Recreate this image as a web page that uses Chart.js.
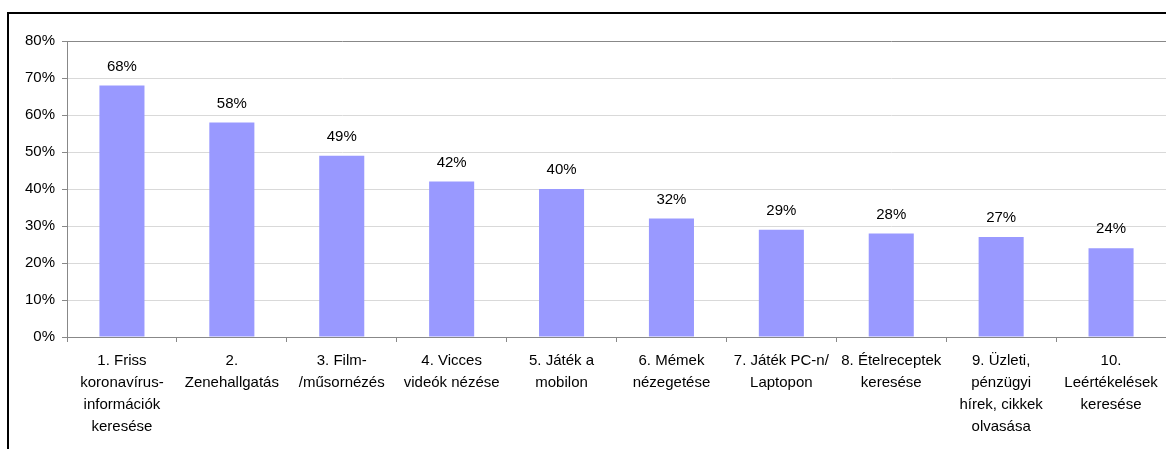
<!DOCTYPE html>
<html>
<head>
<meta charset="utf-8">
<script src="https://cdn.jsdelivr.net/npm/chart.js@4"></script>
<style>
  html, body { margin: 0; padding: 0; background: #fff; overflow: hidden; }
  #wrap { width: 1166px; height: 449px; position: relative; }
</style>
</head>
<body>
<div id="wrap"><canvas id="chart" width="1166" height="449"></canvas></div>
<script>
'use strict';

// ── data ──
const categories = [
  ['1. Friss', 'koronavírus-', 'információk', 'keresése'],
  ['2.', 'Zenehallgatás'],
  ['3. Film-', '/műsornézés'],
  ['4. Vicces', 'videók nézése'],
  ['5. Játék a', 'mobilon'],
  ['6. Mémek', 'nézegetése'],
  ['7. Játék PC-n/', 'Laptopon'],
  ['8. Ételreceptek', 'keresése'],
  ['9. Üzleti,', 'pénzügyi', 'hírek, cikkek', 'olvasása'],
  ['10.', 'Leértékelések', 'keresése'],
];
const values = [68, 58, 49, 42, 40, 32, 29, 28, 27, 24];
const yTicks = [0, 10, 20, 30, 40, 50, 60, 70, 80];

const FONT = "'Liberation Sans', Arial, sans-serif";

// frame around the whole chart (runs off right / bottom edge)
const framePlugin = {
  id: 'frame',
  beforeDraw(chart) {
    const c = chart.ctx;
    c.save();
    c.strokeStyle = '#000';
    c.lineWidth = 2;
    c.strokeRect(8, 13, chart.width + 20, chart.height + 20);
    c.restore();
  }
};

// percentage labels above bars
const valueLabels = {
  id: 'valueLabels',
  afterDatasetsDraw(chart) {
    const c = chart.ctx;
    const meta = chart.getDatasetMeta(0);
    c.save();
    c.font = '15px ' + FONT;
    c.fillStyle = '#000';
    c.textAlign = 'center';
    c.textBaseline = 'middle';
    meta.data.forEach((bar, i) => {
      c.fillText(values[i] + '%', bar.x, bar.y - 19);
    });
    c.restore();
  }
};

new Chart(document.getElementById('chart'), {
  type: 'bar',
  data: {
    labels: categories,
    datasets: [{
      data: values,
      backgroundColor: '#9999ff',
      borderWidth: 0,
      categoryPercentage: 1,
      barPercentage: 0.41,
    }],
  },
  options: {
    responsive: false,
    animation: false,
    layout: { padding: { top: 41, right: 0, bottom: 0, left: 0 } },
    plugins: { legend: { display: false }, tooltip: { enabled: false } },
    scales: {
      x: {
        afterFit(scale) { scale.height = 112; },
        grid: {
          offset: true,
          drawOnChartArea: false,
          drawTicks: true,
          tickLength: 5,
          color: '#888',
        },
        border: { color: '#888', width: 1 },
        ticks: {
          autoSkip: false,
          maxRotation: 0,
          padding: 8,
          color: '#000',
          font: { family: FONT, size: 15, lineHeight: 1.47 },
        },
      },
      y: {
        min: 0,
        max: 80,
        afterFit(scale) { scale.width = 67; },
        afterBuildTicks(scale) { scale.ticks = yTicks.map(v => ({ value: v })); },
        grid: {
          color: ctx => (ctx.tick && ctx.tick.value === 80 ? '#888' : '#d9d9d9'),
          tickColor: '#888',
          tickLength: 5,
        },
        border: { color: '#888', width: 1 },
        ticks: {
          padding: 7,
          color: '#000',
          font: { family: FONT, size: 15 },
          callback: v => v + '%',
        },
      },
    },
  },
  plugins: [framePlugin, valueLabels],
});
</script>
</body>
</html>
